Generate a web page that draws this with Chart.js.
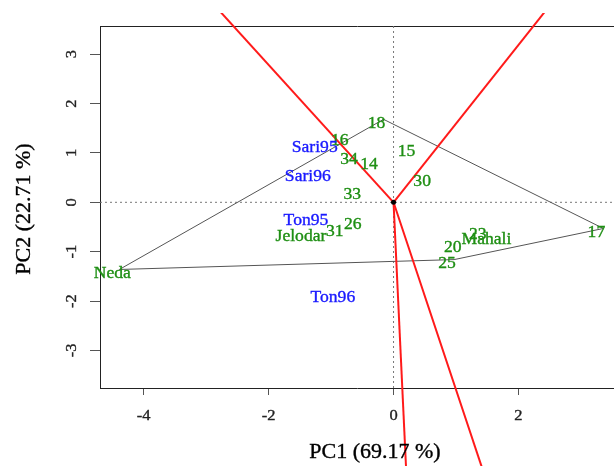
<!DOCTYPE html>
<html>
<head>
<meta charset="utf-8">
<script src="https://cdn.jsdelivr.net/npm/chart.js@4"></script>
<style>
  html, body { margin: 0; padding: 0; background: #fff; overflow: hidden; }
  #wrap { width: 614px; height: 466px; }
</style>
</head>
<body>
<div id="wrap"><canvas id="biplot" width="614" height="466"></canvas></div>
<script>
// genotypes (green) and environments (blue), PC1 / PC2 scores
var genoNames = ['Neda', 'Jelodar', 'Mahali', '14', '15', '16', '17', '18', '20', '23', '25', '26', '30', '31', '33', '34'];
var genoX = [-4.39, -1.37, 1.60, -0.28, 0.32, -0.75, 3.36, -0.16, 1.06, 1.46, 0.97, -0.54, 0.57, -0.83, -0.55, -0.60];
var genoY = [-1.36, -0.62, -0.67, 0.84, 1.11, 1.33, -0.53, 1.68, -0.85, -0.58, -1.16, -0.38, 0.49, -0.52, 0.24, 0.94];

var envNames = ['Sari95', 'Sari96', 'Ton95', 'Ton96'];
var envX = [-1.15, -1.26, -1.29, -0.86];
var envY = [1.19, 0.60, -0.29, -1.85];

// polygon vertices (which-won-where)
var hullNames = ['Neda', '18', '17', '25'];

var xTicks = [-4, -2, 0, 2];
var yTicks = [-3, -2, -1, 0, 1, 2, 3];
var xMin = -4.70, xMax = 3.53;
var yMin = -3.76, yMax = 3.57;
var xTitle = 'PC1 (69.17 %)';
var yTitle = 'PC2 (22.71 %)';

var GREEN = '#1f8f14';
var BLUE = '#1a1aff';
var SERIF = '"Liberation Serif", "Times New Roman", serif';
var SX = 1.1; // text is drawn a bit wide

function pt(name) {
    var i = genoNames.indexOf(name);
    return { x: genoX[i], y: genoY[i] };
}

var hull = hullNames.map(pt);
hull.push(hull[0]);

// rays from the origin, perpendicular to each polygon side
var rays = [];
for (var i = 0; i < hull.length - 1; i++) {
    var a = hull[i], b = hull[i + 1];
    var dx = b.x - a.x, dy = b.y - a.y;
    var t = -(a.x * dx + a.y * dy) / (dx * dx + dy * dy);
    var fx = a.x + t * dx, fy = a.y + t * dy;
    var len = Math.sqrt(fx * fx + fy * fy);
    rays.push([{ x: 0, y: 0 }, { x: fx / len * 20, y: fy / len * 20 }]);
}

var datasets = [{
    data: [{ x: 0, y: 0 }],
    pointRadius: 2.5,
    pointBackgroundColor: '#000',
    pointBorderWidth: 0,
    showLine: false,
    order: 0
}];
rays.forEach(function (r) {
    datasets.push({
        data: r,
        showLine: true,
        borderColor: '#ff1a1a',
        borderWidth: 2,
        pointRadius: 0,
        clip: { left: 100, top: 13, right: 0, bottom: 100 },
        order: 1
    });
});
datasets.push({
    data: hull,
    showLine: true,
    borderColor: '#555',
    borderWidth: 1,
    pointRadius: 0,
    order: 2
});
datasets.push({
    data: [{ x: xMin, y: 0 }, { x: xMax, y: 0 }],
    showLine: true,
    borderColor: '#777',
    borderWidth: 1,
    borderDash: [2, 3],
    pointRadius: 0,
    order: 3
});
datasets.push({
    data: [{ x: 0, y: yMin }, { x: 0, y: yMax }],
    showLine: true,
    borderColor: '#777',
    borderWidth: 1,
    borderDash: [2, 3],
    pointRadius: 0,
    order: 3
});

function drawText(ctx, str, px, py, size, color, rot) {
    ctx.save();
    ctx.translate(px, py);
    if (rot) ctx.rotate(rot);
    ctx.scale(SX, 1);
    ctx.font = size + 'px ' + SERIF;
    ctx.fillStyle = color;
    ctx.strokeStyle = color;
    ctx.lineWidth = 0.35;
    ctx.textAlign = 'center';
    ctx.textBaseline = 'middle';
    ctx.fillText(str, 0, 0);
    ctx.strokeText(str, 0, 0);
    ctx.restore();
}

var textPlugin = {
    id: 'texts',
    afterDatasetsDraw: function (chart) {
        var ctx = chart.ctx;
        var sx = chart.scales.x, sy = chart.scales.y;
        genoNames.forEach(function (n, i) {
            drawText(ctx, n, sx.getPixelForValue(genoX[i]) - 7, sy.getPixelForValue(genoY[i]) + 4, 16, GREEN);
        });
        envNames.forEach(function (n, i) {
            drawText(ctx, n, sx.getPixelForValue(envX[i]) - 7, sy.getPixelForValue(envY[i]) + 4, 16, BLUE);
        });
        sx.ticks.forEach(function (t) {
            drawText(ctx, String(t.value), sx.getPixelForValue(t.value), 416, 15, '#222');
        });
        sy.ticks.forEach(function (t) {
            drawText(ctx, String(t.value), 72, sy.getPixelForValue(t.value), 15, '#222', -Math.PI / 2);
        });
        drawText(ctx, xTitle, 375, 453, 20, '#000');
        drawText(ctx, yTitle, 25, 209, 20, '#000', -Math.PI / 2);
    }
};

new Chart(document.getElementById('biplot'), {
    type: 'scatter',
    data: { datasets: datasets },
    plugins: [textPlugin],
    options: {
        responsive: false,
        animation: false,
        devicePixelRatio: 1,
        layout: { autoPadding: false, padding: { left: 90, top: 26, right: 0, bottom: 71 } },
        plugins: { legend: { display: false }, tooltip: { enabled: false } },
        scales: {
            x: {
                type: 'linear', min: xMin, max: xMax,
                afterBuildTicks: function (s) { s.ticks = xTicks.map(function (v) { return { value: v }; }); },
                ticks: { display: false },
                grid: { drawOnChartArea: false, drawTicks: true, tickLength: 7, color: '#555' },
                border: { display: true, color: '#222', width: 1 }
            },
            xTop: {
                type: 'linear', position: 'top', min: xMin, max: xMax,
                ticks: { display: false },
                grid: { drawOnChartArea: false, drawTicks: false },
                border: { display: true, color: '#222', width: 1 }
            },
            y: {
                type: 'linear', min: yMin, max: yMax,
                afterBuildTicks: function (s) { s.ticks = yTicks.map(function (v) { return { value: v }; }); },
                ticks: { display: false },
                grid: { drawOnChartArea: false, drawTicks: true, tickLength: 10, color: '#555' },
                border: { display: true, color: '#222', width: 1 }
            }
        }
    }
});
</script>
</body>
</html>
